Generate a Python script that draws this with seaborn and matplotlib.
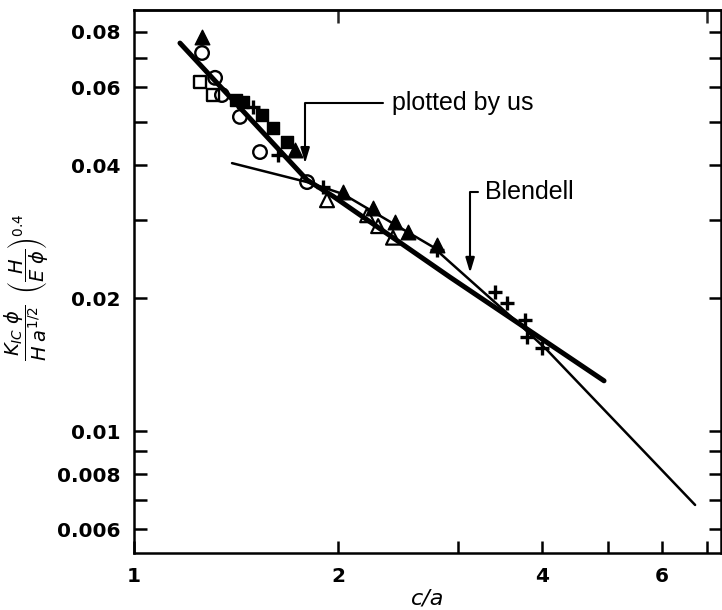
import matplotlib
matplotlib.use("Agg")
import matplotlib.pyplot as plt
import seaborn as sns
from matplotlib.ticker import FixedLocator, NullLocator, NullFormatter, FixedFormatter

# ---------------- data ----------------
ours_x = [1.169, 1.800, 1.966, 2.925, 4.934]
ours_y = [0.0755, 0.0370, 0.0340, 0.0223, 0.0130]

blendell_x = [1.395, 1.800, 2.033, 2.761, 2.925, 3.672, 4.066, 6.722]
blendell_y = [0.0404, 0.0366, 0.0344, 0.0261, 0.0241, 0.01766, 0.01526, 0.00681]

open_circle_x = [1.260, 1.317, 1.348, 1.433, 1.534, 1.800]
open_circle_y = [0.0717, 0.0630, 0.0576, 0.0514, 0.0428, 0.0366]

open_square_x = [1.251, 1.308]
open_square_y = [0.0616, 0.0576]

filled_square_x = [1.414, 1.448, 1.545, 1.603, 1.681]
filled_square_y = [0.0561, 0.0556, 0.0519, 0.0485, 0.0451]

filled_tri_x = [1.260, 1.728, 2.033, 2.252, 2.427, 2.535, 2.799]
filled_tri_y = [0.0779, 0.0433, 0.0348, 0.0320, 0.0297, 0.0282, 0.0264]

open_tri_x = [1.926, 2.207, 2.291, 2.410]
open_tri_y = [0.0333, 0.0308, 0.0291, 0.0274]

cross_x = [1.498, 1.631, 1.900, 2.799, 3.407, 3.549, 3.774, 3.799, 3.998]
cross_y = [0.0541, 0.0422, 0.0357, 0.0257, 0.0206, 0.0195, 0.0178, 0.0163, 0.0154]

x_major = [1, 2, 4, 6]
x_major_labels = ["1", "2", "4", "6"]
x_minor = [3, 5, 7]
x_top = [2, 7]
y_major = [0.006, 0.008, 0.01, 0.02, 0.04, 0.06, 0.08]
y_major_labels = ["0.006", "0.008", "0.01", "0.02", "0.04", "0.06", "0.08"]
y_minor = [0.007, 0.009, 0.03, 0.05, 0.07]

ours_label = "plotted by us"
ours_tip = (1.788, 0.0404)
ours_text = (2.40, 0.0553)
blend_label = "Blendell"
blend_tip = (3.131, 0.0228)
blend_text = (3.294, 0.0348)

# ---------------- figure ----------------
sns.set_style("ticks")
plt.rcParams["font.family"] = ["DejaVu Sans"]

fig = plt.figure(figsize=(7.22, 6.10), dpi=100)
ax = fig.add_axes([134 / 722, 57 / 610, 587 / 722, 543 / 610])
ax.set_xscale("log")
ax.set_yscale("log")

sns.lineplot(x=ours_x, y=ours_y, ax=ax, color="black", linewidth=3.6,
             sort=False, estimator=None, zorder=2)
sns.lineplot(x=blendell_x, y=blendell_y, ax=ax, color="black", linewidth=1.8,
             sort=False, estimator=None, zorder=2)

sns.scatterplot(x=open_circle_x, y=open_circle_y, ax=ax, marker="o", s=95,
                color="black", facecolor="none", edgecolor="black", linewidth=1.7, zorder=3)
sns.scatterplot(x=open_square_x, y=open_square_y, ax=ax, marker="s", s=80,
                color="black", facecolor="none", edgecolor="black", linewidth=1.7, zorder=3)
sns.scatterplot(x=filled_square_x, y=filled_square_y, ax=ax, marker="s", s=85,
                color="black", edgecolor="black", linewidth=1, zorder=3)
sns.scatterplot(x=filled_tri_x, y=filled_tri_y, ax=ax, marker="^", s=110,
                color="black", edgecolor="black", linewidth=1, zorder=3)
sns.scatterplot(x=open_tri_x, y=open_tri_y, ax=ax, marker="^", s=100,
                color="black", facecolor="none", edgecolor="black", linewidth=1.6, zorder=3)
sns.scatterplot(x=cross_x, y=cross_y, ax=ax, marker="+", s=110,
                color="black", linewidth=2.4, zorder=3)

ax.set_xlim(1, 7.34)
ax.set_ylim(0.005302, 0.0897)

# ticks
ax.xaxis.set_major_locator(FixedLocator(x_major))
ax.xaxis.set_major_formatter(FixedFormatter(x_major_labels))
ax.xaxis.set_minor_locator(FixedLocator(x_minor))
ax.xaxis.set_minor_formatter(NullFormatter())
ax.yaxis.set_major_locator(FixedLocator(y_major))
ax.yaxis.set_major_formatter(FixedFormatter(y_major_labels))
ax.yaxis.set_minor_locator(FixedLocator(y_minor))
ax.yaxis.set_minor_formatter(NullFormatter())

ax.tick_params(which="both", direction="in", length=9, width=1.8,
               left=True, right=True, bottom=True, top=False, color="black")
ax.tick_params(axis="both", which="major", labelsize=14.5, pad=10, labelcolor="black")
for lab in ax.get_xticklabels() + ax.get_yticklabels():
    lab.set_fontweight("bold")

sec = ax.secondary_xaxis("top")
sec.xaxis.set_major_locator(FixedLocator(x_top))
sec.xaxis.set_minor_locator(NullLocator())
sec.xaxis.set_major_formatter(NullFormatter())
sec.tick_params(direction="in", length=9, width=1.8)
sec.spines["top"].set_linewidth(1.8)

for sp in ax.spines.values():
    sp.set_linewidth(1.8)
    sp.set_color("black")

ax.set_xlabel("c/a", fontsize=16, fontstyle="italic", labelpad=2, color="black")
ax.set_ylabel(r"$\dfrac{K_{IC}\;\phi}{H\;a^{1/2}}\;\;\left(\dfrac{H}{E\;\phi}\right)^{0.4}$",
              fontsize=14, color="black")
ax.yaxis.set_label_coords(-0.142, 0.49)

ann_font = ["Liberation Sans", "DejaVu Sans"]
ax.annotate(ours_label, xy=ours_tip, xytext=ours_text, textcoords="data",
            ha="left", va="center", fontsize=18, family=ann_font, color="black",
            arrowprops=dict(arrowstyle="-|>,head_length=0.5,head_width=0.15",
                            connectionstyle="angle,angleA=0,angleB=90,rad=0",
                            relpos=(0, 0.5), shrinkA=4, shrinkB=0,
                            color="black", lw=1.5))
ax.annotate(blend_label, xy=blend_tip, xytext=blend_text, textcoords="data",
            ha="left", va="center", fontsize=18, family=ann_font, color="black",
            arrowprops=dict(arrowstyle="-|>,head_length=0.5,head_width=0.15",
                            connectionstyle="angle,angleA=0,angleB=90,rad=0",
                            relpos=(0, 0.5), shrinkA=3, shrinkB=0,
                            color="black", lw=1.5))

fig.savefig("out.png", dpi=100, facecolor="white")
